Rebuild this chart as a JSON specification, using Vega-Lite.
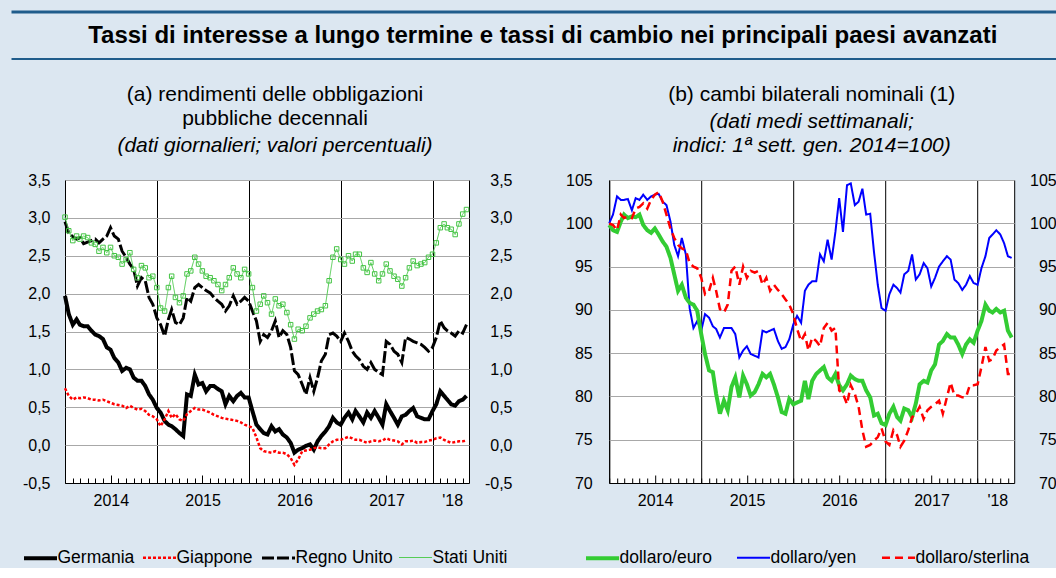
{
"$schema": "https://vega.github.io/schema/vega-lite/v6.json",
"background": "#dce7f1",
"padding": {"left": 10, "top": 10, "right": 0, "bottom": 0},
"config": {
  "font": "Liberation Sans",
  "locale": {"number": {"decimal": ",", "thousands": ".", "grouping": [3], "currency": ["€", ""], "minus": "-"}},
  "view": {"stroke": "black", "strokeWidth": 1, "fill": "white"},
  "axis": {"labelFont": "Liberation Sans", "labelFontSize": 16, "labelColor": "black", "title": null, "domain": false},
  "legend": {"labelFont": "Liberation Sans", "labelFontSize": 17.5, "labelColor": "black", "title": null, "orient": "none", "direction": "horizontal", "padding": 0, "symbolType": "stroke", "symbolSize": 1090, "labelOffset": -2}
},
"datasets": {
"tassi": [
{"d":"2014-01-01","Germania":1.97,"Giappone":0.75,"Regno Unito":2.95,"Stati Uniti":3.01},
{"d":"2014-01-16","Germania":1.73,"Giappone":0.65,"Regno Unito":2.80,"Stati Uniti":2.83},
{"d":"2014-02-01","Germania":1.59,"Giappone":0.60,"Regno Unito":2.75,"Stati Uniti":2.70},
{"d":"2014-02-16","Germania":1.66,"Giappone":0.63,"Regno Unito":2.72,"Stati Uniti":2.76},
{"d":"2014-03-01","Germania":1.59,"Giappone":0.62,"Regno Unito":2.74,"Stati Uniti":2.72},
{"d":"2014-03-16","Germania":1.57,"Giappone":0.63,"Regno Unito":2.66,"Stati Uniti":2.76},
{"d":"2014-04-01","Germania":1.57,"Giappone":0.62,"Regno Unito":2.68,"Stati Uniti":2.74},
{"d":"2014-04-16","Germania":1.51,"Giappone":0.60,"Regno Unito":2.70,"Stati Uniti":2.67},
{"d":"2014-05-01","Germania":1.46,"Giappone":0.60,"Regno Unito":2.72,"Stati Uniti":2.65},
{"d":"2014-05-16","Germania":1.44,"Giappone":0.59,"Regno Unito":2.67,"Stati Uniti":2.56},
{"d":"2014-06-01","Germania":1.40,"Giappone":0.60,"Regno Unito":2.72,"Stati Uniti":2.61},
{"d":"2014-06-16","Germania":1.29,"Giappone":0.58,"Regno Unito":2.76,"Stati Uniti":2.54},
{"d":"2014-07-01","Germania":1.26,"Giappone":0.56,"Regno Unito":2.87,"Stati Uniti":2.61},
{"d":"2014-07-16","Germania":1.15,"Giappone":0.54,"Regno Unito":2.76,"Stati Uniti":2.50},
{"d":"2014-08-01","Germania":1.09,"Giappone":0.53,"Regno Unito":2.72,"Stati Uniti":2.48},
{"d":"2014-08-16","Germania":0.98,"Giappone":0.52,"Regno Unito":2.56,"Stati Uniti":2.39},
{"d":"2014-09-01","Germania":1.02,"Giappone":0.49,"Regno Unito":2.48,"Stati Uniti":2.45},
{"d":"2014-09-16","Germania":1.00,"Giappone":0.52,"Regno Unito":2.39,"Stati Uniti":2.54},
{"d":"2014-10-01","Germania":0.89,"Giappone":0.49,"Regno Unito":2.32,"Stati Uniti":2.32},
{"d":"2014-10-16","Germania":0.85,"Giappone":0.47,"Regno Unito":2.10,"Stati Uniti":2.21},
{"d":"2014-11-01","Germania":0.85,"Giappone":0.48,"Regno Unito":2.21,"Stati Uniti":2.37},
{"d":"2014-11-16","Germania":0.78,"Giappone":0.45,"Regno Unito":2.17,"Stati Uniti":2.34},
{"d":"2014-12-01","Germania":0.67,"Giappone":0.40,"Regno Unito":1.95,"Stati Uniti":2.21},
{"d":"2014-12-16","Germania":0.60,"Giappone":0.38,"Regno Unito":1.86,"Stati Uniti":2.23},
{"d":"2015-01-01","Germania":0.49,"Giappone":0.34,"Regno Unito":1.68,"Stati Uniti":2.08},
{"d":"2015-01-16","Germania":0.43,"Giappone":0.25,"Regno Unito":1.59,"Stati Uniti":1.81},
{"d":"2015-02-01","Germania":0.32,"Giappone":0.34,"Regno Unito":1.44,"Stati Uniti":1.77},
{"d":"2015-02-16","Germania":0.27,"Giappone":0.45,"Regno Unito":1.66,"Stati Uniti":2.08},
{"d":"2015-03-01","Germania":0.25,"Giappone":0.36,"Regno Unito":1.79,"Stati Uniti":2.23},
{"d":"2015-03-16","Germania":0.21,"Giappone":0.41,"Regno Unito":1.62,"Stati Uniti":1.95},
{"d":"2015-04-01","Germania":0.16,"Giappone":0.34,"Regno Unito":1.59,"Stati Uniti":1.88},
{"d":"2015-04-16","Germania":0.12,"Giappone":0.32,"Regno Unito":1.68,"Stati Uniti":1.97},
{"d":"2015-05-01","Germania":0.67,"Giappone":0.41,"Regno Unito":1.95,"Stati Uniti":2.26},
{"d":"2015-05-16","Germania":0.65,"Giappone":0.45,"Regno Unito":1.90,"Stati Uniti":2.30},
{"d":"2015-06-01","Germania":0.93,"Giappone":0.49,"Regno Unito":2.08,"Stati Uniti":2.48},
{"d":"2015-06-16","Germania":0.80,"Giappone":0.47,"Regno Unito":2.12,"Stati Uniti":2.39},
{"d":"2015-07-01","Germania":0.82,"Giappone":0.47,"Regno Unito":2.08,"Stati Uniti":2.30},
{"d":"2015-07-16","Germania":0.71,"Giappone":0.45,"Regno Unito":2.04,"Stati Uniti":2.23},
{"d":"2015-08-01","Germania":0.78,"Giappone":0.43,"Regno Unito":2.01,"Stati Uniti":2.21},
{"d":"2015-08-16","Germania":0.78,"Giappone":0.40,"Regno Unito":1.95,"Stati Uniti":2.17},
{"d":"2015-09-01","Germania":0.74,"Giappone":0.38,"Regno Unito":1.90,"Stati Uniti":2.12},
{"d":"2015-09-16","Germania":0.71,"Giappone":0.36,"Regno Unito":1.86,"Stati Uniti":2.04},
{"d":"2015-10-01","Germania":0.54,"Giappone":0.35,"Regno Unito":1.77,"Stati Uniti":2.12},
{"d":"2015-10-16","Germania":0.65,"Giappone":0.34,"Regno Unito":1.84,"Stati Uniti":2.21},
{"d":"2015-11-01","Germania":0.58,"Giappone":0.33,"Regno Unito":1.97,"Stati Uniti":2.34},
{"d":"2015-11-16","Germania":0.65,"Giappone":0.32,"Regno Unito":1.86,"Stati Uniti":2.26},
{"d":"2015-12-01","Germania":0.69,"Giappone":0.30,"Regno Unito":1.90,"Stati Uniti":2.21},
{"d":"2015-12-16","Germania":0.63,"Giappone":0.27,"Regno Unito":1.95,"Stati Uniti":2.32},
{"d":"2016-01-01","Germania":0.63,"Giappone":0.25,"Regno Unito":1.90,"Stati Uniti":2.26},
{"d":"2016-01-16","Germania":0.45,"Giappone":0.23,"Regno Unito":1.77,"Stati Uniti":2.08},
{"d":"2016-02-01","Germania":0.27,"Giappone":0.10,"Regno Unito":1.64,"Stati Uniti":1.77},
{"d":"2016-02-16","Germania":0.21,"Giappone":-0.04,"Regno Unito":1.37,"Stati Uniti":1.86},
{"d":"2016-03-01","Germania":0.16,"Giappone":-0.08,"Regno Unito":1.46,"Stati Uniti":1.97},
{"d":"2016-03-16","Germania":0.14,"Giappone":-0.09,"Regno Unito":1.42,"Stati Uniti":1.88},
{"d":"2016-04-01","Germania":0.25,"Giappone":-0.10,"Regno Unito":1.51,"Stati Uniti":1.73},
{"d":"2016-04-16","Germania":0.18,"Giappone":-0.08,"Regno Unito":1.64,"Stati Uniti":1.93},
{"d":"2016-05-01","Germania":0.21,"Giappone":-0.10,"Regno Unito":1.42,"Stati Uniti":1.84},
{"d":"2016-05-16","Germania":0.14,"Giappone":-0.10,"Regno Unito":1.51,"Stati Uniti":1.86},
{"d":"2016-06-01","Germania":0.10,"Giappone":-0.12,"Regno Unito":1.46,"Stati Uniti":1.75},
{"d":"2016-06-16","Germania":0.03,"Giappone":-0.17,"Regno Unito":1.29,"Stati Uniti":1.59},
{"d":"2016-07-01","Germania":-0.10,"Giappone":-0.26,"Regno Unito":0.98,"Stati Uniti":1.40},
{"d":"2016-07-16","Germania":-0.06,"Giappone":-0.19,"Regno Unito":0.93,"Stati Uniti":1.53},
{"d":"2016-08-01","Germania":-0.04,"Giappone":-0.08,"Regno Unito":0.80,"Stati Uniti":1.51},
{"d":"2016-08-16","Germania":-0.01,"Giappone":-0.07,"Regno Unito":0.67,"Stati Uniti":1.57},
{"d":"2016-09-01","Germania":0.01,"Giappone":-0.06,"Regno Unito":0.89,"Stati Uniti":1.68},
{"d":"2016-09-16","Germania":-0.06,"Giappone":-0.04,"Regno Unito":0.71,"Stati Uniti":1.73},
{"d":"2016-10-01","Germania":0.05,"Giappone":-0.03,"Regno Unito":0.89,"Stati Uniti":1.77},
{"d":"2016-10-16","Germania":0.12,"Giappone":-0.04,"Regno Unito":1.11,"Stati Uniti":1.79},
{"d":"2016-11-01","Germania":0.18,"Giappone":-0.04,"Regno Unito":1.20,"Stati Uniti":1.84},
{"d":"2016-11-16","Germania":0.25,"Giappone":0.01,"Regno Unito":1.46,"Stati Uniti":2.17},
{"d":"2016-12-01","Germania":0.36,"Giappone":0.05,"Regno Unito":1.48,"Stati Uniti":2.48},
{"d":"2016-12-16","Germania":0.30,"Giappone":0.07,"Regno Unito":1.44,"Stati Uniti":2.59},
{"d":"2017-01-01","Germania":0.27,"Giappone":0.07,"Regno Unito":1.37,"Stati Uniti":2.45},
{"d":"2017-01-16","Germania":0.36,"Giappone":0.09,"Regno Unito":1.48,"Stati Uniti":2.39},
{"d":"2017-02-01","Germania":0.43,"Giappone":0.11,"Regno Unito":1.37,"Stati Uniti":2.50},
{"d":"2017-02-16","Germania":0.34,"Giappone":0.09,"Regno Unito":1.24,"Stati Uniti":2.43},
{"d":"2017-03-01","Germania":0.45,"Giappone":0.07,"Regno Unito":1.18,"Stati Uniti":2.52},
{"d":"2017-03-16","Germania":0.38,"Giappone":0.07,"Regno Unito":1.13,"Stati Uniti":2.52},
{"d":"2017-04-01","Germania":0.30,"Giappone":0.05,"Regno Unito":1.04,"Stati Uniti":2.34},
{"d":"2017-04-16","Germania":0.43,"Giappone":0.03,"Regno Unito":1.00,"Stati Uniti":2.28},
{"d":"2017-05-01","Germania":0.36,"Giappone":0.05,"Regno Unito":1.09,"Stati Uniti":2.41},
{"d":"2017-05-16","Germania":0.45,"Giappone":0.06,"Regno Unito":1.00,"Stati Uniti":2.26},
{"d":"2017-06-01","Germania":0.36,"Giappone":0.05,"Regno Unito":0.96,"Stati Uniti":2.17},
{"d":"2017-06-16","Germania":0.27,"Giappone":0.06,"Regno Unito":0.93,"Stati Uniti":2.26},
{"d":"2017-07-01","Germania":0.54,"Giappone":0.09,"Regno Unito":1.37,"Stati Uniti":2.39},
{"d":"2017-07-16","Germania":0.45,"Giappone":0.07,"Regno Unito":1.33,"Stati Uniti":2.30},
{"d":"2017-08-01","Germania":0.36,"Giappone":0.06,"Regno Unito":1.24,"Stati Uniti":2.23},
{"d":"2017-08-16","Germania":0.27,"Giappone":0.05,"Regno Unito":1.20,"Stati Uniti":2.19},
{"d":"2017-09-01","Germania":0.38,"Giappone":0.01,"Regno Unito":1.09,"Stati Uniti":2.10},
{"d":"2017-09-16","Germania":0.40,"Giappone":0.05,"Regno Unito":1.42,"Stati Uniti":2.21},
{"d":"2017-10-01","Germania":0.45,"Giappone":0.05,"Regno Unito":1.40,"Stati Uniti":2.34},
{"d":"2017-10-16","Germania":0.49,"Giappone":0.06,"Regno Unito":1.37,"Stati Uniti":2.43},
{"d":"2017-11-01","Germania":0.38,"Giappone":0.03,"Regno Unito":1.35,"Stati Uniti":2.37},
{"d":"2017-11-16","Germania":0.36,"Giappone":0.04,"Regno Unito":1.33,"Stati Uniti":2.39},
{"d":"2017-12-01","Germania":0.34,"Giappone":0.04,"Regno Unito":1.29,"Stati Uniti":2.41},
{"d":"2017-12-16","Germania":0.34,"Giappone":0.06,"Regno Unito":1.24,"Stati Uniti":2.48},
{"d":"2018-01-01","Germania":0.45,"Giappone":0.07,"Regno Unito":1.29,"Stati Uniti":2.52},
{"d":"2018-01-16","Germania":0.54,"Giappone":0.09,"Regno Unito":1.42,"Stati Uniti":2.67},
{"d":"2018-02-01","Germania":0.71,"Giappone":0.10,"Regno Unito":1.64,"Stati Uniti":2.87},
{"d":"2018-02-16","Germania":0.65,"Giappone":0.07,"Regno Unito":1.55,"Stati Uniti":2.92},
{"d":"2018-03-01","Germania":0.60,"Giappone":0.05,"Regno Unito":1.51,"Stati Uniti":2.87},
{"d":"2018-03-16","Germania":0.54,"Giappone":0.03,"Regno Unito":1.48,"Stati Uniti":2.85},
{"d":"2018-04-01","Germania":0.52,"Giappone":0.04,"Regno Unito":1.44,"Stati Uniti":2.78},
{"d":"2018-04-16","Germania":0.58,"Giappone":0.05,"Regno Unito":1.51,"Stati Uniti":2.92},
{"d":"2018-05-01","Germania":0.60,"Giappone":0.05,"Regno Unito":1.48,"Stati Uniti":3.05},
{"d":"2018-05-16","Germania":0.65,"Giappone":0.06,"Regno Unito":1.59,"Stati Uniti":3.11}
],
"cambi": [
{"d":"2014-01-01","dollaro/euro":99.8,"dollaro/yen":100.0,"dollaro/sterlina":100.0},
{"d":"2014-01-16","dollaro/euro":99.2,"dollaro/yen":101.0,"dollaro/sterlina":99.8},
{"d":"2014-02-01","dollaro/euro":99.0,"dollaro/yen":103.1,"dollaro/sterlina":99.2},
{"d":"2014-02-16","dollaro/euro":100.2,"dollaro/yen":102.7,"dollaro/sterlina":101.0},
{"d":"2014-03-01","dollaro/euro":101.0,"dollaro/yen":102.7,"dollaro/sterlina":100.6},
{"d":"2014-03-16","dollaro/euro":100.6,"dollaro/yen":102.8,"dollaro/sterlina":100.8},
{"d":"2014-04-01","dollaro/euro":100.8,"dollaro/yen":101.5,"dollaro/sterlina":100.6},
{"d":"2014-04-16","dollaro/euro":100.7,"dollaro/yen":102.9,"dollaro/sterlina":101.7},
{"d":"2014-05-01","dollaro/euro":101.0,"dollaro/yen":102.7,"dollaro/sterlina":101.9},
{"d":"2014-05-16","dollaro/euro":99.8,"dollaro/yen":103.3,"dollaro/sterlina":102.3},
{"d":"2014-06-01","dollaro/euro":99.2,"dollaro/yen":102.7,"dollaro/sterlina":101.7},
{"d":"2014-06-16","dollaro/euro":98.9,"dollaro/yen":103.1,"dollaro/sterlina":102.7},
{"d":"2014-07-01","dollaro/euro":99.4,"dollaro/yen":103.3,"dollaro/sterlina":103.3},
{"d":"2014-07-16","dollaro/euro":98.7,"dollaro/yen":103.4,"dollaro/sterlina":103.6},
{"d":"2014-08-01","dollaro/euro":97.9,"dollaro/yen":102.5,"dollaro/sterlina":102.5},
{"d":"2014-08-16","dollaro/euro":97.3,"dollaro/yen":102.1,"dollaro/sterlina":101.0},
{"d":"2014-09-01","dollaro/euro":96.0,"dollaro/yen":100.2,"dollaro/sterlina":99.4},
{"d":"2014-09-16","dollaro/euro":94.1,"dollaro/yen":97.5,"dollaro/sterlina":98.3},
{"d":"2014-10-01","dollaro/euro":92.2,"dollaro/yen":96.2,"dollaro/sterlina":97.5},
{"d":"2014-10-16","dollaro/euro":92.9,"dollaro/yen":98.3,"dollaro/sterlina":97.1},
{"d":"2014-11-01","dollaro/euro":91.4,"dollaro/yen":96.4,"dollaro/sterlina":96.9},
{"d":"2014-11-16","dollaro/euro":90.8,"dollaro/yen":90.2,"dollaro/sterlina":95.4},
{"d":"2014-12-01","dollaro/euro":90.6,"dollaro/yen":87.9,"dollaro/sterlina":95.0},
{"d":"2014-12-16","dollaro/euro":89.9,"dollaro/yen":88.7,"dollaro/sterlina":94.8},
{"d":"2015-01-01","dollaro/euro":87.2,"dollaro/yen":87.6,"dollaro/sterlina":93.7},
{"d":"2015-01-16","dollaro/euro":84.9,"dollaro/yen":89.5,"dollaro/sterlina":91.8},
{"d":"2015-02-01","dollaro/euro":83.0,"dollaro/yen":89.1,"dollaro/sterlina":92.2},
{"d":"2015-02-16","dollaro/euro":82.8,"dollaro/yen":88.1,"dollaro/sterlina":93.7},
{"d":"2015-03-01","dollaro/euro":80.3,"dollaro/yen":87.8,"dollaro/sterlina":92.2},
{"d":"2015-03-16","dollaro/euro":78.0,"dollaro/yen":86.8,"dollaro/sterlina":90.1},
{"d":"2015-04-01","dollaro/euro":79.5,"dollaro/yen":87.9,"dollaro/sterlina":89.7},
{"d":"2015-04-16","dollaro/euro":78.4,"dollaro/yen":87.9,"dollaro/sterlina":90.6},
{"d":"2015-05-01","dollaro/euro":81.1,"dollaro/yen":87.9,"dollaro/sterlina":94.5},
{"d":"2015-05-16","dollaro/euro":82.2,"dollaro/yen":87.2,"dollaro/sterlina":95.0},
{"d":"2015-06-01","dollaro/euro":79.9,"dollaro/yen":84.5,"dollaro/sterlina":92.9},
{"d":"2015-06-16","dollaro/euro":82.4,"dollaro/yen":85.3,"dollaro/sterlina":95.0},
{"d":"2015-07-01","dollaro/euro":81.4,"dollaro/yen":85.8,"dollaro/sterlina":93.7},
{"d":"2015-07-16","dollaro/euro":80.1,"dollaro/yen":84.9,"dollaro/sterlina":94.5},
{"d":"2015-08-01","dollaro/euro":80.5,"dollaro/yen":84.7,"dollaro/sterlina":94.3},
{"d":"2015-08-16","dollaro/euro":81.4,"dollaro/yen":84.5,"dollaro/sterlina":94.5},
{"d":"2015-09-01","dollaro/euro":82.6,"dollaro/yen":87.6,"dollaro/sterlina":92.9},
{"d":"2015-09-16","dollaro/euro":82.2,"dollaro/yen":87.4,"dollaro/sterlina":93.7},
{"d":"2015-10-01","dollaro/euro":82.6,"dollaro/yen":87.6,"dollaro/sterlina":92.2},
{"d":"2015-10-16","dollaro/euro":81.4,"dollaro/yen":87.8,"dollaro/sterlina":92.9},
{"d":"2015-11-01","dollaro/euro":79.9,"dollaro/yen":86.4,"dollaro/sterlina":92.3},
{"d":"2015-11-16","dollaro/euro":78.2,"dollaro/yen":85.5,"dollaro/sterlina":91.8},
{"d":"2015-12-01","dollaro/euro":78.0,"dollaro/yen":85.7,"dollaro/sterlina":91.2},
{"d":"2015-12-16","dollaro/euro":79.7,"dollaro/yen":86.6,"dollaro/sterlina":90.6},
{"d":"2016-01-01","dollaro/euro":79.1,"dollaro/yen":88.3,"dollaro/sterlina":89.5},
{"d":"2016-01-16","dollaro/euro":79.3,"dollaro/yen":89.3,"dollaro/sterlina":87.8},
{"d":"2016-02-01","dollaro/euro":79.5,"dollaro/yen":88.5,"dollaro/sterlina":86.4},
{"d":"2016-02-16","dollaro/euro":81.8,"dollaro/yen":92.2,"dollaro/sterlina":87.2},
{"d":"2016-03-01","dollaro/euro":79.7,"dollaro/yen":92.9,"dollaro/sterlina":85.3},
{"d":"2016-03-16","dollaro/euro":81.8,"dollaro/yen":93.3,"dollaro/sterlina":86.8},
{"d":"2016-04-01","dollaro/euro":82.6,"dollaro/yen":93.3,"dollaro/sterlina":86.4},
{"d":"2016-04-16","dollaro/euro":83.0,"dollaro/yen":96.4,"dollaro/sterlina":85.8},
{"d":"2016-05-01","dollaro/euro":83.4,"dollaro/yen":95.6,"dollaro/sterlina":87.9},
{"d":"2016-05-16","dollaro/euro":82.2,"dollaro/yen":98.1,"dollaro/sterlina":88.5},
{"d":"2016-06-01","dollaro/euro":81.8,"dollaro/yen":95.8,"dollaro/sterlina":87.6},
{"d":"2016-06-16","dollaro/euro":82.6,"dollaro/yen":99.0,"dollaro/sterlina":87.9},
{"d":"2016-07-01","dollaro/euro":81.3,"dollaro/yen":102.9,"dollaro/sterlina":80.7},
{"d":"2016-07-16","dollaro/euro":80.7,"dollaro/yen":99.0,"dollaro/sterlina":80.3},
{"d":"2016-08-01","dollaro/euro":81.4,"dollaro/yen":104.4,"dollaro/sterlina":79.1},
{"d":"2016-08-16","dollaro/euro":82.4,"dollaro/yen":104.6,"dollaro/sterlina":81.3},
{"d":"2016-09-01","dollaro/euro":82.0,"dollaro/yen":102.1,"dollaro/sterlina":80.3},
{"d":"2016-09-16","dollaro/euro":81.8,"dollaro/yen":102.5,"dollaro/sterlina":78.8},
{"d":"2016-10-01","dollaro/euro":81.8,"dollaro/yen":104.0,"dollaro/sterlina":76.1},
{"d":"2016-10-16","dollaro/euro":80.7,"dollaro/yen":101.0,"dollaro/sterlina":74.2},
{"d":"2016-11-01","dollaro/euro":79.9,"dollaro/yen":101.1,"dollaro/sterlina":74.4},
{"d":"2016-11-16","dollaro/euro":77.8,"dollaro/yen":96.7,"dollaro/sterlina":74.9},
{"d":"2016-12-01","dollaro/euro":78.0,"dollaro/yen":92.9,"dollaro/sterlina":75.3},
{"d":"2016-12-16","dollaro/euro":76.9,"dollaro/yen":90.2,"dollaro/sterlina":76.3},
{"d":"2017-01-01","dollaro/euro":76.7,"dollaro/yen":89.9,"dollaro/sterlina":74.8},
{"d":"2017-01-16","dollaro/euro":78.0,"dollaro/yen":91.8,"dollaro/sterlina":74.4},
{"d":"2017-02-01","dollaro/euro":78.8,"dollaro/yen":92.9,"dollaro/sterlina":76.1},
{"d":"2017-02-16","dollaro/euro":77.6,"dollaro/yen":92.5,"dollaro/sterlina":75.5},
{"d":"2017-03-01","dollaro/euro":77.2,"dollaro/yen":92.0,"dollaro/sterlina":74.2},
{"d":"2017-03-16","dollaro/euro":78.6,"dollaro/yen":94.1,"dollaro/sterlina":74.9},
{"d":"2017-04-01","dollaro/euro":78.4,"dollaro/yen":94.5,"dollaro/sterlina":76.1},
{"d":"2017-04-16","dollaro/euro":77.6,"dollaro/yen":96.4,"dollaro/sterlina":77.6},
{"d":"2017-05-01","dollaro/euro":79.2,"dollaro/yen":93.5,"dollaro/sterlina":78.0},
{"d":"2017-05-16","dollaro/euro":81.4,"dollaro/yen":94.1,"dollaro/sterlina":78.8},
{"d":"2017-06-01","dollaro/euro":81.8,"dollaro/yen":95.4,"dollaro/sterlina":77.4},
{"d":"2017-06-16","dollaro/euro":81.6,"dollaro/yen":94.8,"dollaro/sterlina":78.4},
{"d":"2017-07-01","dollaro/euro":83.0,"dollaro/yen":92.7,"dollaro/sterlina":78.8},
{"d":"2017-07-16","dollaro/euro":83.7,"dollaro/yen":93.7,"dollaro/sterlina":79.1},
{"d":"2017-08-01","dollaro/euro":86.0,"dollaro/yen":95.0,"dollaro/sterlina":79.5},
{"d":"2017-08-16","dollaro/euro":86.4,"dollaro/yen":95.6,"dollaro/sterlina":78.0},
{"d":"2017-09-01","dollaro/euro":87.2,"dollaro/yen":96.2,"dollaro/sterlina":79.9},
{"d":"2017-09-16","dollaro/euro":86.8,"dollaro/yen":95.8,"dollaro/sterlina":81.6},
{"d":"2017-10-01","dollaro/euro":86.8,"dollaro/yen":93.5,"dollaro/sterlina":80.1},
{"d":"2017-10-16","dollaro/euro":86.0,"dollaro/yen":93.1,"dollaro/sterlina":80.1},
{"d":"2017-11-01","dollaro/euro":84.9,"dollaro/yen":92.3,"dollaro/sterlina":79.9},
{"d":"2017-11-16","dollaro/euro":86.0,"dollaro/yen":92.9,"dollaro/sterlina":79.9},
{"d":"2017-12-01","dollaro/euro":86.6,"dollaro/yen":93.9,"dollaro/sterlina":81.3},
{"d":"2017-12-16","dollaro/euro":86.2,"dollaro/yen":93.1,"dollaro/sterlina":81.3},
{"d":"2018-01-01","dollaro/euro":87.6,"dollaro/yen":92.9,"dollaro/sterlina":81.4},
{"d":"2018-01-16","dollaro/euro":88.7,"dollaro/yen":94.8,"dollaro/sterlina":83.4},
{"d":"2018-02-01","dollaro/euro":90.6,"dollaro/yen":96.2,"dollaro/sterlina":85.7},
{"d":"2018-02-16","dollaro/euro":89.9,"dollaro/yen":98.3,"dollaro/sterlina":84.1},
{"d":"2018-03-01","dollaro/euro":89.7,"dollaro/yen":98.7,"dollaro/sterlina":84.3},
{"d":"2018-03-16","dollaro/euro":90.1,"dollaro/yen":99.2,"dollaro/sterlina":85.3},
{"d":"2018-04-01","dollaro/euro":89.7,"dollaro/yen":98.7,"dollaro/sterlina":85.7},
{"d":"2018-04-16","dollaro/euro":89.9,"dollaro/yen":97.7,"dollaro/sterlina":86.0},
{"d":"2018-05-01","dollaro/euro":87.6,"dollaro/yen":96.2,"dollaro/sterlina":82.6},
{"d":"2018-05-16","dollaro/euro":86.8,"dollaro/yen":96.0,"dollaro/sterlina":82.6}
]
},
"columns": 1,
"align": "none",
"spacing": 23,
"concat": [
{
  "width": 993, "height": 47,
  "view": {"stroke": null, "fill": null},
  "data": {"values": [{"t": "Tassi di interesse a lungo termine e tassi di cambio nei principali paesi avanzati"}]},
  "layer": [
    {"mark": {"type": "rule", "color": "#1f5c8b", "strokeWidth": 3},
     "encoding": {"x": {"datum": 0, "type": "quantitative", "scale": {"domain": [0, 1], "range": [-53.5, 993]}, "axis": null}, "x2": {"datum": 1}, "y": {"datum": 1, "type": "quantitative", "scale": {"domain": [0, 1]}, "axis": null}}},
    {"mark": {"type": "rule", "color": "#1f5c8b", "strokeWidth": 2},
     "encoding": {"x": {"datum": 0, "type": "quantitative"}, "x2": {"datum": 1}, "y": {"datum": 0, "type": "quantitative"}}},
    {"mark": {"type": "text", "fontSize": 24, "fontWeight": "bold", "dx": 8, "color": "black"},
     "encoding": {"x": {"datum": 0.5, "type": "quantitative"}, "y": {"datum": 0.5, "type": "quantitative"}, "text": {"field": "t"}}}
  ]
},
{
  "spacing": 140.2,
  "bounds": "flush",
  "resolve": {"scale": {"color": "independent", "strokeDash": "independent", "strokeWidth": "independent"}, "legend": {"color": "independent", "strokeDash": "independent", "strokeWidth": "independent"}},
  "hconcat": [
  {
    "width": 404, "height": 303,
    "title": {"text": ["(a) rendimenti delle obbligazioni", "pubbliche decennali"], "subtitle": "(dati giornalieri; valori percentuali)", "fontSize": 21, "fontWeight": "normal", "subtitleFontSize": 21, "subtitleFontStyle": "italic", "color": "black", "subtitleColor": "black", "lineHeight": 24.5, "subtitleLineHeight": 24.5, "subtitlePadding": 6, "offset": 16, "dx": 8, "anchor": "middle", "font": "Liberation Sans", "subtitleFont": "Liberation Sans"},
    "data": {"name": "tassi"},
    "transform": [{"fold": ["Germania", "Giappone", "Regno Unito", "Stati Uniti"], "as": ["serie", "v"]}],
    "resolve": {"axis": {"x": "independent", "y": "independent"}},
    "layer": [
      {
        "mark": {"type": "line"},
        "encoding": {
          "x": {"field": "d", "type": "temporal", "scale": {"type": "utc", "domain": [{"year": 2014, "month": 1, "date": 1, "utc": true}, {"year": 2018, "month": 5, "date": 26, "utc": true}]},
                "axis": {"orient": "bottom", "tickCount": {"interval": "month", "step": 1}, "labels": false, "ticks": true, "tickColor": "black", "tickSize": {"condition": {"test": "utcmonth(datum.value) == 6", "value": -8}, "value": -5}, "grid": true, "gridColor": "black", "gridOpacity": {"condition": {"test": "utcmonth(datum.value) == 0", "value": 1}, "value": 0}, "domain": true, "domainColor": "black"}},
          "y": {"field": "v", "type": "quantitative", "scale": {"domain": [-0.5, 3.5], "nice": false, "zero": false},
                "axis": {"orient": "left", "values": [-0.5, 0, 0.5, 1, 1.5, 2, 2.5, 3, 3.5], "format": ".1f", "ticks": false, "grid": true, "gridColor": "#a8a8a8", "labelPadding": 15, "minExtent": 52}},
          "color": {"field": "serie", "type": "nominal", "scale": {"domain": ["Germania", "Giappone", "Regno Unito", "Stati Uniti"], "range": ["#000000", "#ff0000", "#000000", "#55cc55"]},
                    "legend": {"legendX": -43.5, "legendY": 359, "columns": 4, "columnPadding": 3}},
          "strokeDash": {"field": "serie", "type": "nominal", "scale": {"domain": ["Germania", "Giappone", "Regno Unito", "Stati Uniti"], "range": [[1, 0], [3, 2], [12, 3], [1, 0]]},
                    "legend": {"legendX": -43.5, "legendY": 359, "columns": 4, "columnPadding": 3}},
          "strokeWidth": {"field": "serie", "type": "nominal", "scale": {"type": "ordinal", "domain": ["Germania", "Giappone", "Regno Unito", "Stati Uniti"], "range": [4, 2.5, 3, 1]},
                    "legend": {"legendX": -43.5, "legendY": 359, "columns": 4, "columnPadding": 3}}
        }
      },
      {
        "transform": [{"filter": "datum.serie == 'Stati Uniti'"}],
        "mark": {"type": "point", "shape": "square", "filled": false, "size": 20, "color": "#44c444", "strokeWidth": 1, "opacity": 1},
        "encoding": {
          "x": {"field": "d", "type": "temporal",
                "axis": {"orient": "bottom", "values": [{"year": 2014, "month": 7, "date": 2, "utc": true}, {"year": 2015, "month": 7, "date": 2, "utc": true}, {"year": 2016, "month": 7, "date": 2, "utc": true}, {"year": 2017, "month": 7, "date": 2, "utc": true}, {"year": 2018, "month": 3, "date": 20, "utc": true}], "labelExpr": "utcyear(datum.value) == 2018 ? \"'18\" : '' + utcyear(datum.value)", "ticks": false, "grid": false, "domain": false, "labelPadding": 9, "labelFlush": false, "labelOverlap": false}},
          "y": {"field": "v", "type": "quantitative",
                "axis": {"orient": "right", "values": [-0.5, 0, 0.5, 1, 1.5, 2, 2.5, 3, 3.5], "format": ".1f", "ticks": false, "grid": false, "labelAlign": "right", "labelPadding": 43}}
        }
      }
    ]
  },
  {
    "width": 405, "height": 303,
    "title": {"text": "(b) cambi bilaterali nominali (1)", "subtitle": ["(dati medi settimanali;", "indici: 1ª sett. gen. 2014=100)"], "fontSize": 21, "fontWeight": "normal", "subtitleFontSize": 21, "subtitleFontStyle": "italic", "color": "black", "subtitleColor": "black", "lineHeight": 24.5, "subtitleLineHeight": 24.5, "subtitlePadding": 6, "offset": 16, "anchor": "middle", "font": "Liberation Sans", "subtitleFont": "Liberation Sans"},
    "data": {"name": "cambi"},
    "transform": [{"fold": ["dollaro/euro", "dollaro/yen", "dollaro/sterlina"], "as": ["cambio", "v"]}],
    "resolve": {"axis": {"x": "independent", "y": "independent"}},
    "encoding": {
      "color": {"field": "cambio", "type": "nominal", "scale": {"domain": ["dollaro/euro", "dollaro/yen", "dollaro/sterlina"], "range": ["#33cc33", "#0000ff", "#ff0000"]},
                "legend": {"legendX": -25.7, "legendY": 359, "columns": 3, "columnPadding": 20}},
      "strokeDash": {"field": "cambio", "type": "nominal", "scale": {"domain": ["dollaro/euro", "dollaro/yen", "dollaro/sterlina"], "range": [[1, 0], [1, 0], [8, 5]]},
                "legend": {"legendX": -25.7, "legendY": 359, "columns": 3, "columnPadding": 20}},
      "strokeWidth": {"field": "cambio", "type": "nominal", "scale": {"type": "ordinal", "domain": ["dollaro/euro", "dollaro/yen", "dollaro/sterlina"], "range": [4, 2, 2.5]},
                "legend": {"legendX": -25.7, "legendY": 359, "columns": 3, "columnPadding": 20}}
    },
    "layer": [
      {
        "transform": [{"filter": "datum.cambio == 'dollaro/yen'"}],
        "mark": {"type": "line"},
        "encoding": {
          "x": {"field": "d", "type": "temporal", "scale": {"type": "utc", "domain": [{"year": 2014, "month": 1, "date": 1, "utc": true}, {"year": 2018, "month": 5, "date": 26, "utc": true}]},
                "axis": {"orient": "bottom", "tickCount": {"interval": "month", "step": 1}, "labels": false, "ticks": true, "tickColor": "black", "tickSize": {"condition": {"test": "utcmonth(datum.value) == 6", "value": -8}, "value": -5}, "grid": true, "gridColor": "black", "gridOpacity": {"condition": {"test": "utcmonth(datum.value) == 0", "value": 1}, "value": 0}, "domain": true, "domainColor": "black"}},
          "y": {"field": "v", "type": "quantitative", "scale": {"domain": [70, 105], "nice": false, "zero": false},
                "axis": {"orient": "left", "values": [70, 75, 80, 85, 90, 95, 100, 105], "ticks": false, "grid": true, "gridColor": "#a8a8a8", "labelPadding": 17}}
        }
      },
      {
        "transform": [{"filter": "datum.cambio != 'dollaro/yen'"}],
        "mark": {"type": "line"},
        "encoding": {
          "x": {"field": "d", "type": "temporal",
                "axis": {"orient": "bottom", "values": [{"year": 2014, "month": 7, "date": 2, "utc": true}, {"year": 2015, "month": 7, "date": 2, "utc": true}, {"year": 2016, "month": 7, "date": 2, "utc": true}, {"year": 2017, "month": 7, "date": 2, "utc": true}, {"year": 2018, "month": 3, "date": 20, "utc": true}], "labelExpr": "utcyear(datum.value) == 2018 ? \"'18\" : '' + utcyear(datum.value)", "ticks": false, "grid": false, "domain": false, "labelPadding": 9, "labelFlush": false, "labelOverlap": false}},
          "y": {"field": "v", "type": "quantitative",
                "axis": {"orient": "right", "values": [70, 75, 80, 85, 90, 95, 100, 105], "ticks": false, "grid": false, "labelAlign": "right", "labelPadding": 42}}
        }
      }
    ]
  }
  ]
}
]
}
